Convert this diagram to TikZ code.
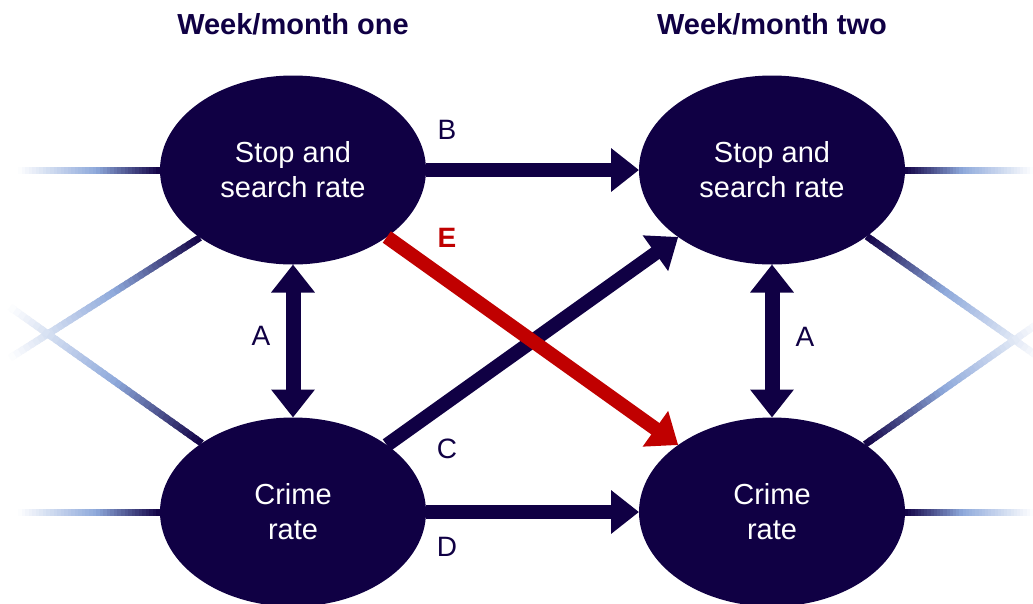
\documentclass[tikz,border=0pt]{standalone}
\usepackage{fontspec}
\setmainfont{Liberation Sans}
\usetikzlibrary{arrows.meta,calc,shapes.geometric}
\definecolor{mynavy}{RGB}{16,0,68}
\definecolor{mylb}{RGB}{142,169,219}
\definecolor{myred}{RGB}{192,0,0}
\tikzset{
  ell/.style={ellipse, fill=mynavy, minimum width=266pt, minimum height=189pt,
    inner sep=0pt, outer sep=0pt, text=white, align=center,
    font=\fontsize{29}{35}\selectfont},
  title/.style={text=mynavy, font=\fontsize{29}{35}\selectfont\bfseries, anchor=base},
  lbl/.style={text=mynavy, font=\fontsize{28}{34}\selectfont, inner sep=0pt},
  redlbl/.style={text=myred, font=\fontsize{28}{34}\selectfont\bfseries, inner sep=0pt},
  stub/.style={line width=7pt},
  bigarrow/.style={line width=14pt, draw=mynavy, -{Triangle[width=42pt,length=28pt]}},
  dblarrow/.style={line width=15pt, draw=mynavy, {Triangle[width=42pt,length=28pt]}-{Triangle[width=42pt,length=28pt]}}
}
\newcommand\fadeline[2]{%
  \foreach \i in {0,...,39}{%
    \pgfmathsetmacro\ta{\i/40}%
    \pgfmathsetmacro\tb{min(1,(\i+1.6)/40)}%
    \pgfmathsetmacro\tm{(\i+0.5)/40}%
    \pgfmathsetmacro\pa{min(100,100*\tm/0.45)}%
    \pgfmathsetmacro\pb{max(0,100*(\tm-0.45)/0.55)}%
    \draw[stub, color=white!\pb!mylb!\pa!mynavy] ($(#1)!\ta!(#2)$) -- ($(#1)!\tb!(#2)$);
  }}
\begin{document}
\begin{tikzpicture}[x=1pt,y=-1pt]
\useasboundingbox (0,0) rectangle (1033,603);
\fill[white] (0,0) rectangle (1033,603);

% titles
\node[title] (t1) at (293,34) {Week/month one};
\node[title] (t2) at (772,34) {Week/month two};

% ellipses
\node[ell] (tl) at (293,170) {Stop and\\search rate};
\node[ell] (bl) at (293,512) {Crime\\rate};
\node[ell] (tr) at (772,170) {Stop and\\search rate};
\node[ell] (br) at (772,512) {Crime\\rate};

% fading stubs
\coordinate (lo1) at (18,170);
\coordinate (lo2) at (18,512);
\coordinate (lo3) at (10,358);
\coordinate (lo4) at (10,307);
\coordinate (ro1) at (1033,170);
\coordinate (ro2) at (1033,512);
\coordinate (ro3) at (1040,358);
\coordinate (ro4) at (1040,322);
\coordinate (s1) at (tl.west);
\coordinate (s2) at (bl.west);
\coordinate (s3) at (tl.216);
\coordinate (s4) at (bl.143);
\coordinate (s5) at (tr.east);
\coordinate (s6) at (br.east);
\coordinate (s7) at (tr.-35);
\coordinate (s8) at (br.36);
\fadeline{s1}{lo1}
\fadeline{s2}{lo2}
\fadeline{s3}{lo3}
\fadeline{s4}{lo4}
\fadeline{s5}{ro1}
\fadeline{s6}{ro2}
\fadeline{s7}{ro3}
\fadeline{s8}{ro4}

% arrows
\draw[dblarrow] (tl) -- (bl);
\draw[dblarrow] (tr) -- (br);
\draw[bigarrow] (tl) -- (tr);
\draw[bigarrow] (bl) -- (br);
\draw[bigarrow] (bl) -- (tr);
\draw[bigarrow, draw=myred] (tl) -- (br);

% labels
\node[lbl] (la1) at (261,336) {A};
\node[lbl] (la2) at (805,337) {A};
\node[lbl] (lb) at (447,130) {B};
\node[redlbl] (le) at (447,238) {E};
\node[lbl] (lc) at (447,449) {C};
\node[lbl] (ld) at (447,547) {D};
\end{tikzpicture}
\end{document}
